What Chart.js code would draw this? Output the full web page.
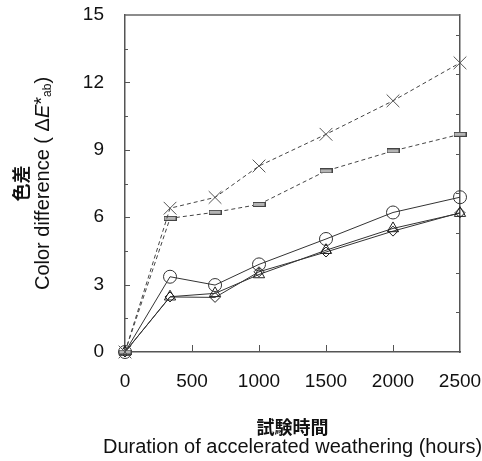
<!DOCTYPE html>
<html>
<head>
<meta charset="utf-8">
<script src="https://cdn.jsdelivr.net/npm/chart.js@4/dist/chart.umd.min.js"></script>
<style>
html,body{margin:0;padding:0;background:#fff;}
#wrap{width:482px;height:461px;position:relative;}
</style>
</head>
<body>
<div id="wrap"><canvas id="c" width="482" height="461"></canvas></div>
<script>
// ---- data ----
const hours = [0, 336, 672, 1000, 1500, 2000, 2500];
const crossSeries    = [0, 6.40, 6.88, 8.28, 9.69, 11.18, 12.87];
const barSeries      = [0, 5.95, 6.22, 6.57, 8.06, 8.95, 9.69];
const circleSeries   = [0, 3.35, 2.98, 3.90, 5.03, 6.21, 6.89];
const triangleSeries = [0, 2.46, 2.61, 3.45, 4.53, 5.50, 6.18];
const diamondSeries  = [0, 2.45, 2.43, 3.57, 4.45, 5.38, 6.20];
const xTicks = [0, 500, 1000, 1500, 2000, 2500];
const yTickLabels = [0, 3, 6, 9, 12, 15];
const xTitleLines = ['試験時間', 'Duration of accelerated weathering (hours)'];
const yTitleJa = '色差';

const LATIN = '"Liberation Sans", Arial, sans-serif';
const CJK = '"Noto Sans CJK JP", sans-serif';

function pts(vals){ return vals.map((v,i)=>({x:hours[i], y:v})); }

// small flat rectangle marker
const barMarker = document.createElement('canvas');
barMarker.width = 13; barMarker.height = 5;
(function(){
  const g = barMarker.getContext('2d');
  g.fillStyle = '#b4b4b4'; g.fillRect(0.5,0.5,12,4);
  g.strokeStyle = '#444'; g.lineWidth = 1; g.strokeRect(0.5,0.5,12,4);
})();

const inwardTicks = {
  id: 'inwardTicks',
  beforeDatasetsDraw(chart){
    const {ctx, chartArea: a, scales} = chart;
    ctx.save();
    ctx.strokeStyle = '#555';
    ctx.lineWidth = 1;
    const seg = (x1,y1,x2,y2)=>{ctx.beginPath();ctx.moveTo(x1,y1);ctx.lineTo(x2,y2);ctx.stroke();};
    const y = scales.y;
    y.ticks.forEach((t,i)=>{
      const p = Math.round(y.getPixelForTick(i)) + 0.5;
      if (p < a.top + 2 || p > a.bottom - 2) return;
      seg(a.left, p, a.left + (t.label !== '' ? 5 : 3), p);
    });
    const y2 = scales.y2;
    y2.ticks.forEach((t,i)=>{
      const p = Math.round(y2.getPixelForTick(i)) + 0.5;
      if (p < a.top + 2 || p > a.bottom - 2) return;
      seg(a.right - 4, p, a.right, p);
    });
    const x = scales.x;
    x.ticks.forEach((t,i)=>{
      const p = Math.round(x.getPixelForTick(i)) + 0.5;
      if (p < a.left + 2 || p > a.right - 2) return;
      seg(p, a.bottom, p, a.bottom - 7);
    });
    // top frame line
    ctx.strokeStyle = '#666';
    ctx.lineWidth = 1.5;
    seg(a.left, a.top, a.right, a.top);
    ctx.restore();
  }
};

const titles = {
  id: 'titles',
  afterDraw(chart){
    const {ctx, chartArea: a} = chart;
    ctx.save();
    ctx.fillStyle = '#111';
    ctx.textBaseline = 'middle';
    // x title
    const cx = (a.left + a.right) / 2;
    ctx.textAlign = 'center';
    ctx.font = 'bold 18px ' + CJK;
    ctx.fillText(xTitleLines[0], cx, a.bottom + 75);
    ctx.font = '20px ' + LATIN;
    ctx.fillText(xTitleLines[1], cx, a.bottom + 95);
    // y title (rotated)
    const cy = (a.top + a.bottom) / 2;
    ctx.save();
    ctx.translate(21, cy);
    ctx.rotate(-Math.PI/2);
    ctx.font = 'bold 18px ' + CJK;
    ctx.textAlign = 'center';
    ctx.fillText(yTitleJa, 0, 0);
    ctx.restore();
    // second line with mixed formatting
    const segs = [
      {t:'Color difference ( Δ', f:'20px ' + LATIN, dy:0},
      {t:'E', f:'italic 20px ' + LATIN, dy:0},
      {t:'*', f:'20px ' + LATIN, dy:-1},
      {t:'ab', f:'12px ' + LATIN, dy:5},
      {t:')', f:'20px ' + LATIN, dy:0}
    ];
    let total = 0;
    segs.forEach(s=>{ctx.font = s.f; s.w = ctx.measureText(s.t).width; total += s.w;});
    ctx.save();
    ctx.translate(43, cy);
    ctx.rotate(-Math.PI/2);
    ctx.textAlign = 'left';
    let px = -total/2;
    segs.forEach(s=>{ctx.font = s.f; ctx.fillText(s.t, px, s.dy); px += s.w;});
    ctx.restore();
    ctx.restore();
  }
};

const common = {fill:false, tension:0, clip:false, pointHitRadius:0};

new Chart(document.getElementById('c'), {
  type: 'line',
  data: {
    datasets: [
      Object.assign({label:'cross', data: pts(crossSeries), borderColor:'#444', borderWidth:1, borderDash:[4,3],
        pointStyle:'crossRot', pointRadius:9, pointBorderColor:'#555', pointBorderWidth:1, pointBackgroundColor:'rgba(0,0,0,0)'}, common),
      Object.assign({label:'bar', data: pts(barSeries), borderColor:'#444', borderWidth:1, borderDash:[4,3],
        pointStyle: barMarker, pointRadius:6}, common),
      Object.assign({label:'circle', data: pts(circleSeries), borderColor:'#333', borderWidth:1,
        pointStyle:'circle', pointRadius:6.5, pointBorderColor:'#333', pointBorderWidth:1, pointBackgroundColor:'rgba(0,0,0,0)'}, common),
      Object.assign({label:'triangle', data: pts(triangleSeries), borderColor:'#333', borderWidth:1,
        pointStyle:'triangle', pointRadius:6.5, pointBorderColor:'#222', pointBorderWidth:1, pointBackgroundColor:'rgba(0,0,0,0)'}, common),
      Object.assign({label:'diamond', data: pts(diamondSeries), borderColor:'#333', borderWidth:1,
        pointStyle:'rectRot', pointRadius:5, pointBorderColor:'#222', pointBorderWidth:1, pointBackgroundColor:'rgba(0,0,0,0)'}, common)
    ]
  },
  options: {
    responsive: false,
    animation: false,
    events: [],
    layout: {padding: {left: 0, right: 0, top: 15, bottom: 0}},
    plugins: {legend: {display:false}, tooltip: {enabled:false}, title:{display:false}},
    scales: {
      x: {
        type: 'linear', position: 'bottom', min: 0, max: 2500,
        afterBuildTicks: s => { s.ticks = xTicks.map(v=>({value:v})); },
        afterFit: s => { s.height = 109; s.paddingLeft = 0; s.paddingRight = 0; },
        grid: {display:false, drawTicks:false},
        border: {display:true, color:'#555', width:1.5},
        ticks: {color:'#111', font:{family:LATIN, size:19}, padding:18, maxRotation:0, autoSkip:false,
          callback: v => String(v)}
      },
      y: {
        type: 'linear', position: 'left', min: 0, max: 15,
        ticks: {stepSize: 1.5, color:'#111', font:{family:LATIN, size:19}, padding:21, autoSkip:false,
          callback: v => (yTickLabels.some(l => Math.abs(l - v) < 1e-6) ? String(Math.round(v)) : '')},
        afterFit: s => { s.width = 125; s.paddingTop = 0; s.paddingBottom = 0; },
        grid: {display:false, drawTicks:false},
        border: {display:true, color:'#555', width:1.5}
      },
      y2: {
        type: 'linear', position: 'right', min: 0, max: 8.5,
        ticks: {stepSize: 1, display:false},
        afterFit: s => { s.width = 22; },
        grid: {display:false, drawTicks:false},
        border: {display:true, color:'#555', width:1.5}
      }
    }
  },
  plugins: [inwardTicks, titles]
});
</script>
</body>
</html>
